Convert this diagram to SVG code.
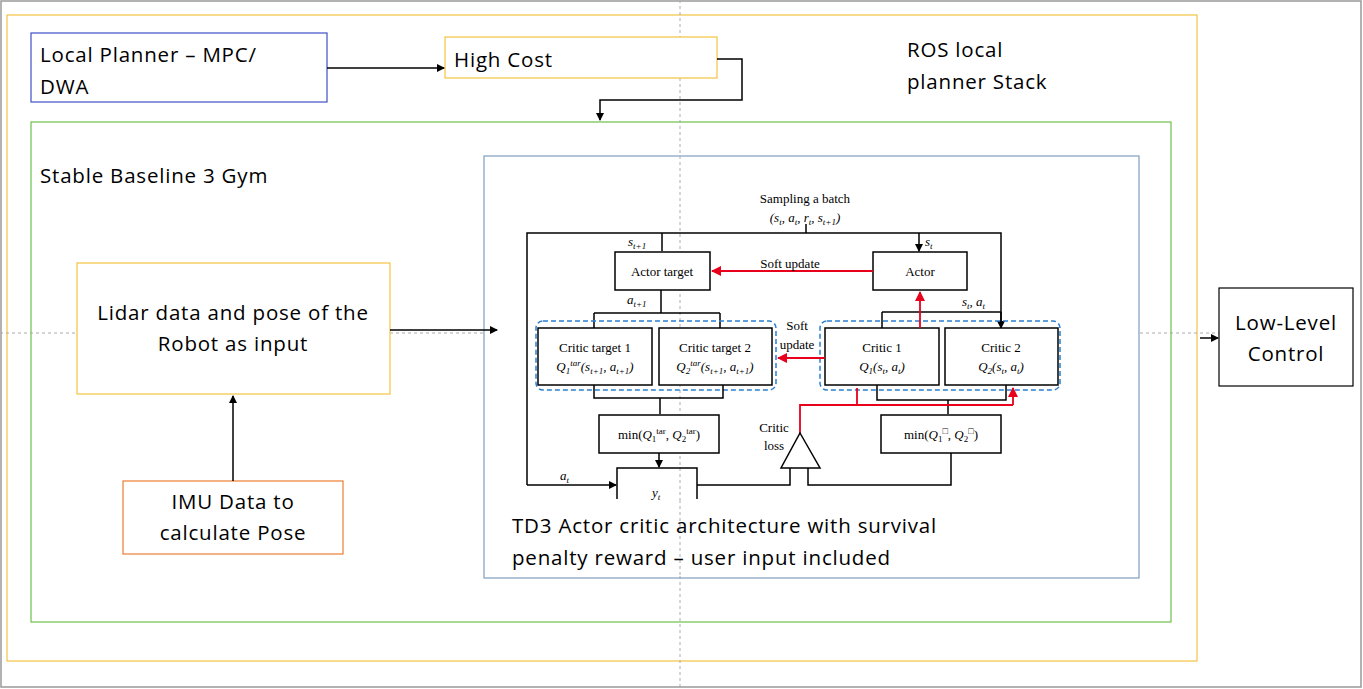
<svg xmlns="http://www.w3.org/2000/svg" width="1363" height="689" viewBox="0 0 1363 689">
<defs>
<marker id="a" markerWidth="8" markerHeight="8" refX="7" refY="4" orient="auto" markerUnits="userSpaceOnUse"><path d="M0,0L8,4L0,8z" fill="#000"/></marker>
<marker id="r" markerWidth="10" markerHeight="10" refX="9" refY="5" orient="auto" markerUnits="userSpaceOnUse"><path d="M0,0L10,5L0,10z" fill="#e8001c"/></marker>
</defs>
<style>
.t{font-family:"Open Sans","Liberation Sans",sans-serif;font-size:20.5px;letter-spacing:0.8px;fill:#000}
.s{font-family:"Liberation Serif",serif;font-size:13px;fill:#000}
.b{fill:#fff;stroke:#000;stroke-width:1.5}
.l{fill:none;stroke:#000;stroke-width:1.5}
.red{fill:none;stroke:#e8001c;stroke-width:1.8}
.d{fill:none;stroke:#2a7fd0;stroke-width:1.5;stroke-dasharray:5,3}
</style>
<rect x="0" y="0" width="1363" height="689" fill="#fff"/>
<rect x="1" y="1" width="1360" height="686" fill="none" stroke="#999" stroke-width="1.5"/>
<g id="ros"><rect x="7" y="15" width="1190" height="646" fill="none" stroke="#f5c342" stroke-width="1.2"/>
<text class="t" x="907" y="57">ROS local</text><text class="t" x="907" y="89">planner Stack</text></g>
<g id="gym"><rect x="31" y="122" width="1140" height="500" fill="none" stroke="#6cc04a" stroke-width="1.2"/>
<text class="t" x="40" y="183">Stable Baseline 3 Gym</text></g>
<g id="guides"><line x1="680" y1="0" x2="680" y2="689" stroke="#aaa" stroke-dasharray="3,3"/><line x1="0" y1="333" x2="1219" y2="333" stroke="#aaa" stroke-dasharray="3,3"/></g>
<g id="localplanner"><rect x="31" y="33" width="296" height="69" fill="#fff" stroke="#3f4fc8" stroke-width="1.2"/>
<text class="t" x="40" y="62">Local Planner – MPC/</text><text class="t" x="40" y="94">DWA</text></g>
<g id="highcost"><rect x="445" y="37" width="272" height="41" fill="#fff" stroke="#f5c342" stroke-width="1.2"/>
<text class="t" x="454" y="67">High Cost</text></g>
<g id="lidar"><rect x="77" y="263" width="313" height="131" fill="#fff" stroke="#f5c342" stroke-width="1.2"/>
<text class="t" x="233" y="320" text-anchor="middle">Lidar data and pose of the</text><text class="t" x="233" y="351" text-anchor="middle">Robot as input</text></g>
<g id="imu"><rect x="123" y="481" width="220" height="73" fill="#fff" stroke="#ed7d31" stroke-width="1.2"/>
<text class="t" x="233" y="509" text-anchor="middle">IMU Data to</text><text class="t" x="233" y="540" text-anchor="middle">calculate Pose</text></g>
<g id="lowlevel"><rect x="1219" y="288" width="134" height="98" fill="#fff" stroke="#000" stroke-width="1.2"/>
<text class="t" x="1286" y="330" text-anchor="middle">Low-Level</text><text class="t" x="1286" y="361" text-anchor="middle">Control</text></g>
<g id="td3"><rect x="484" y="156" width="655" height="422" fill="#fff" stroke="#7f9fbf" stroke-width="1.2"/>
<line x1="680" y1="156" x2="680" y2="578" stroke="#aaa" stroke-dasharray="3,3"/>
<text class="s" x="805" y="203" text-anchor="middle">Sampling a batch</text>
<text class="s" x="805" y="222" text-anchor="middle" font-style="italic">(s<tspan font-size="9" dy="3">t</tspan><tspan dy="-3">, a</tspan><tspan font-size="9" dy="3">t</tspan><tspan dy="-3">, r</tspan><tspan font-size="9" dy="3">t</tspan><tspan dy="-3">, s</tspan><tspan font-size="9" dy="3">t+1</tspan><tspan dy="-3">)</tspan></text>
<path class="l" d="M806,224V233M527,485V233H1001V328"/>
<path class="l" d="M662,233V251M919,233V251" marker-end="url(#a)"/>
<text class="s" x="628" y="246" font-style="italic">s<tspan font-size="9" dy="3">t+1</tspan></text>
<text class="s" x="925" y="246" font-style="italic">s<tspan font-size="9" dy="3">t</tspan></text>
<rect class="b" x="615" y="252" width="95" height="38"/><text class="s" x="662" y="276" text-anchor="middle">Actor target</text>
<rect class="b" x="873" y="252" width="94" height="38"/><text class="s" x="920" y="276" text-anchor="middle">Actor</text>
<path class="red" d="M873,271H712" marker-end="url(#r)"/><text class="s" x="790" y="268" text-anchor="middle">Soft update</text>
<text class="s" x="627" y="304" font-style="italic">a<tspan font-size="9" dy="3">t+1</tspan></text>
<path class="l" d="M661,290V313M594,313H720"/>
<path class="l" d="M594,313V328M720,313V328M882,312V328M1001,312V328" marker-end="url(#a)"/>
<path class="l" d="M882,312H1001"/>
<text class="s" x="962" y="306" font-style="italic">s<tspan font-size="9" dy="3">t</tspan><tspan dy="-3">, a</tspan><tspan font-size="9" dy="3">t</tspan></text>
<rect class="b" x="538" y="328" width="114" height="57"/><text class="s" x="595" y="352" text-anchor="middle">Critic target 1</text><text class="s" x="595" y="371" text-anchor="middle" font-style="italic">Q<tspan font-size="9" dy="3">1</tspan><tspan font-size="9" dy="-8">tar</tspan><tspan dy="5">(s</tspan><tspan font-size="9" dy="3">t+1</tspan><tspan dy="-3">, a</tspan><tspan font-size="9" dy="3">t+1</tspan><tspan dy="-3">)</tspan></text>
<rect class="b" x="659" y="328" width="113" height="57"/><text class="s" x="715" y="352" text-anchor="middle">Critic target 2</text><text class="s" x="715" y="371" text-anchor="middle" font-style="italic">Q<tspan font-size="9" dy="3">2</tspan><tspan font-size="9" dy="-8">tar</tspan><tspan dy="5">(s</tspan><tspan font-size="9" dy="3">t+1</tspan><tspan dy="-3">, a</tspan><tspan font-size="9" dy="3">t+1</tspan><tspan dy="-3">)</tspan></text>
<rect class="b" x="825" y="328" width="114" height="57"/><text class="s" x="882" y="352" text-anchor="middle">Critic 1</text><text class="s" x="882" y="371" text-anchor="middle" font-style="italic">Q<tspan font-size="9" dy="3">1</tspan><tspan dy="-3">(s</tspan><tspan font-size="9" dy="3">t</tspan><tspan dy="-3">, a</tspan><tspan font-size="9" dy="3">t</tspan><tspan dy="-3">)</tspan></text>
<rect class="b" x="945" y="328" width="113" height="57"/><text class="s" x="1001" y="352" text-anchor="middle">Critic 2</text><text class="s" x="1001" y="371" text-anchor="middle" font-style="italic">Q<tspan font-size="9" dy="3">2</tspan><tspan dy="-3">(s</tspan><tspan font-size="9" dy="3">t</tspan><tspan dy="-3">, a</tspan><tspan font-size="9" dy="3">t</tspan><tspan dy="-3">)</tspan></text>
<rect class="d" x="536" y="321" width="240" height="69" rx="7"/>
<rect class="d" x="820" y="321" width="240" height="69" rx="7"/>
<text class="s" x="797" y="330" text-anchor="middle">Soft</text><text class="s" x="797" y="349" text-anchor="middle">update</text>
<path class="red" d="M825,358H778" marker-end="url(#r)"/>
<path class="red" d="M920,328V292" marker-end="url(#r)"/>
<path class="l" d="M594,385V398H723V385M877,385V400H1006V385"/>
<path class="l" d="M660,398V414M948,400V414M659,453V467" marker-end="url(#a)"/>
<rect class="b" x="599" y="415" width="120" height="38"/><text class="s" x="659" y="439" text-anchor="middle">min(<tspan font-style="italic">Q</tspan><tspan font-size="9" dy="3">1</tspan><tspan font-size="9" dy="-8">tar</tspan><tspan dy="5">, </tspan><tspan font-style="italic">Q</tspan><tspan font-size="9" dy="3">2</tspan><tspan font-size="9" dy="-8">tar</tspan><tspan dy="5">)</tspan></text>
<rect class="b" x="881" y="415" width="120" height="38"/><text class="s" x="941" y="439" text-anchor="middle">min(<tspan font-style="italic">Q</tspan><tspan font-size="9" dy="3">1</tspan><tspan font-size="9" dy="-8">□</tspan><tspan dy="5">, </tspan><tspan font-style="italic">Q</tspan><tspan font-size="9" dy="3">2</tspan><tspan font-size="9" dy="-8">□</tspan><tspan dy="5">)</tspan></text>
<path class="red" d="M800,433V405H1013"/>
<path class="red" d="M857,405V388M1013,405V388" marker-end="url(#r)"/>
<text class="s" x="774" y="432" text-anchor="middle">Critic</text><text class="s" x="774" y="450" text-anchor="middle">loss</text>
<path class="b" d="M800,433L820,468H781z"/>
<path class="l" d="M527,485H616" marker-end="url(#a)"/>
<text class="s" x="560" y="480" font-style="italic">a<tspan font-size="9" dy="3">t</tspan></text>
<path class="l" d="M617,499V468H697V499M697,485H790V468M808,468V485H951V453"/>
<text class="s" x="652" y="497" font-style="italic">y<tspan font-size="9" dy="3">t</tspan></text>
<rect x="486" y="500" width="651" height="76" fill="#fff"/>
<line x1="680" y1="500" x2="680" y2="578" stroke="#aaa" stroke-dasharray="3,3"/>
<text class="t" x="512" y="533">TD3 Actor critic architecture with survival</text><text class="t" x="512" y="565">penalty reward – user input included</text></g>
<g id="connectors">
<path class="l" stroke-width="1" d="M327,68H444" marker-end="url(#a)"/>
<path class="l" stroke-width="1" d="M717,59H742V100H600V120" marker-end="url(#a)"/>
<path class="l" stroke-width="1" d="M390,330H497" marker-end="url(#a)"/>
<path class="l" stroke-width="1" d="M233,481V396" marker-end="url(#a)"/>
<path class="l" stroke-width="1" d="M1200,338H1218" marker-end="url(#a)"/>
</g>
</svg>
